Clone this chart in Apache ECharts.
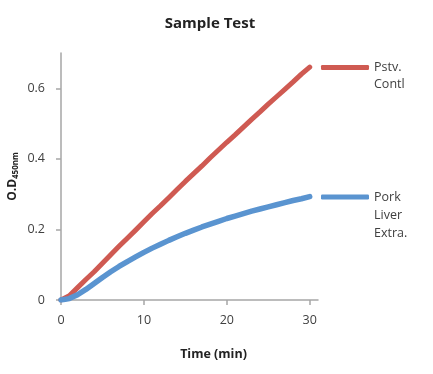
<!DOCTYPE html>
<html>
<head>
<meta charset="utf-8">
<script src="https://cdn.jsdelivr.net/npm/echarts@6/dist/echarts.min.js"></script>
<style>html,body{margin:0;padding:0;background:#fff}#c{width:433px;height:374px}</style>
</head>
<body>
<div id="c"></div>
<script>
var times = [0,1,2,3,4,5,6,7,8,9,10,11,12,13,14,15,16,17,18,19,20,21,22,23,24,25,26,27,28,29,30];
var pstvContl = [0.0,0.012,0.035,0.058,0.08,0.104,0.128,0.152,0.175,0.198,0.222,0.245,0.267,0.29,0.313,0.336,0.358,0.38,0.403,0.425,0.447,0.468,0.49,0.512,0.533,0.555,0.576,0.597,0.618,0.64,0.66];
var porkLiver = [0.0,0.004,0.015,0.03,0.047,0.064,0.08,0.095,0.109,0.122,0.135,0.147,0.158,0.169,0.179,0.189,0.198,0.207,0.215,0.223,0.231,0.238,0.245,0.252,0.258,0.264,0.27,0.276,0.282,0.287,0.293];
var xTicks = [0,10,20,30];
var yTicks = [0,0.2,0.4,0.6];
var seriesNames = ['Pstv. Contl','Pork Liver Extra.'];
var legendLines = [['Pstv.','Contl'],['Pork','Liver','Extra.']];

function pairs(xs, ys){ return xs.map(function(x,i){ return [x, ys[i]]; }); }
// pad with blank lines above so that the first text line is centred on the legend icon
function legendText(lines){
  var pad = [];
  for (var i = 1; i < lines.length; i++) pad.push(' ');
  return pad.concat(lines).join('\n');
}

var font = 'Open Sans';
var chart = echarts.init(document.getElementById('c'));
chart.setOption({
  animation:false,
  title:{text:'Sample Test', left:205, top:11, textAlign:'center',
    textStyle:{fontFamily:font, fontSize:15, fontWeight:'bold', color:'#222'}},
  grid:{left:61, top:53, right:115, bottom:74, containLabel:false, outerBoundsMode:'none'},
  xAxis:{type:'value', min:0, max:31, interval:10,
    name:'Time (min)', nameLocation:'middle', nameGap:48, nameMoveOverlap:false,
    nameTextStyle:{fontFamily:font, fontSize:12.5, fontWeight:'bold', color:'#222', padding:[0,0,0,48]},
    axisLine:{lineStyle:{color:'#a6a6a6', width:1.5}},
    axisTick:{show:true, length:5, customValues:xTicks, lineStyle:{color:'#a6a6a6', width:1.5}},
    axisLabel:{customValues:xTicks, fontFamily:font, fontSize:12.5, color:'#404040', margin:14},
    splitLine:{show:false}},
  yAxis:{type:'value', min:0, max:0.7, interval:0.2,
    name:'{a|O.D}{b|450nm}', nameLocation:'middle', nameRotate:90, nameGap:41, nameMoveOverlap:false,
    nameTextStyle:{rich:{
      a:{fontFamily:font, fontSize:12, fontWeight:'bold', color:'#222'},
      b:{fontFamily:font, fontSize:8, fontWeight:'bold', color:'#222', padding:[6,0,0,0]}}},
    axisLine:{show:true, lineStyle:{color:'#a6a6a6', width:1.5}},
    axisTick:{show:true, length:5, customValues:yTicks, lineStyle:{color:'#a6a6a6', width:1.5}},
    axisLabel:{customValues:yTicks, fontFamily:font, fontSize:12.5, color:'#404040', margin:16},
    splitLine:{show:false}},
  legend:[
    {data:[seriesNames[0]], left:321, top:42, padding:0, icon:'roundRect', itemWidth:48, itemHeight:5,
      formatter:function(){return legendText(legendLines[0]);},
      textStyle:{fontFamily:font, fontSize:12.5, color:'#404040', lineHeight:17}},
    {data:[seriesNames[1]], left:321, top:152, padding:0, icon:'roundRect', itemWidth:48, itemHeight:5,
      formatter:function(){return legendText(legendLines[1]);},
      textStyle:{fontFamily:font, fontSize:12.5, color:'#404040', lineHeight:18}}
  ],
  series:[
    {name:seriesNames[0], type:'line', data:pairs(times,pstvContl), showSymbol:false, symbol:'none',
      color:'#cf5a52', lineStyle:{width:5, color:'#cf5a52', cap:'round', join:'round'}},
    {name:seriesNames[1], type:'line', data:pairs(times,porkLiver), showSymbol:false, symbol:'none',
      color:'#5a94d0', lineStyle:{width:5.5, color:'#5a94d0', cap:'round', join:'round'}}
  ]
});
</script>
</body>
</html>
